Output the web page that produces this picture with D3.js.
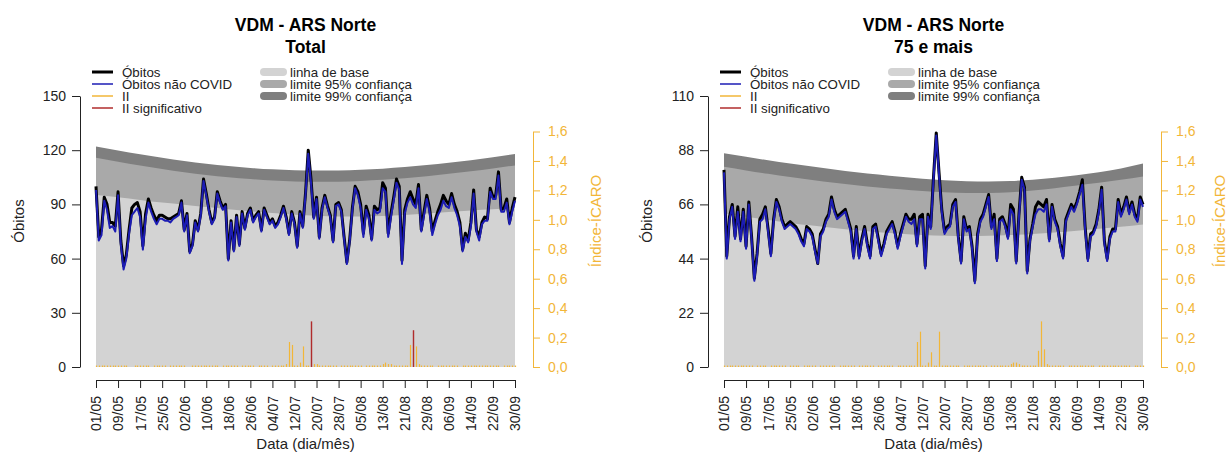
<!DOCTYPE html>
<html>
<head>
<meta charset="utf-8">
<script src="https://d3js.org/d3.v7.min.js"></script>
<style>
  body { margin: 0; background: #fff; }
  svg { display: block; font-family: "Liberation Sans", Arial, sans-serif; }
</style>
</head>
<body>
<svg id="chart" width="1230" height="452"></svg>
<script>
// x ticks, one every 8 days (2020)
const tickLabels = ["01/05","09/05","17/05","25/05","02/06","10/06","18/06","26/06","04/07","12/07",
                    "20/07","28/07","05/08","13/08","21/08","29/08","06/09","14/09","22/09","30/09"]

// ---- Total ----
// bands read at the tick dates
const baseTotal = [95.2,94,92.5,91,89.8,88.5,87.3,86.2,85.2,84.3,83.7,83.3,83.3,83.6,84.2,85,85.8,86.6,87.3,88]
const lim95Total = [115.8,113.6,111.5,109.6,107.8,106.3,105,104,103.2,102.7,102.5,102.6,103,103.6,104.5,105.6,106.9,108.3,109.9,111.6]
const lim99Total = [122,119.8,117.7,115.8,114,112.5,111.2,110.2,109.4,108.9,108.7,108.8,109.2,109.8,110.7,111.8,113.1,114.5,116.1,117.9]

const obitosTotal = [
  100,72,76,94,90,80,80,78,97,70,  56,62,76,88,90,91,86,67,85,93,
  88,84,81,84,84,83,82,82,83,84,  85,92,76,85,64,68,81,76,85,104,
  96,87,80,83,97,92,88,90,60,81,  65,84,68,86,77,85,88,81,84,86,
  76,88,84,80,82,78,80,84,89,83,  74,86,80,67,86,78,96,120,104,83,
  94,72,88,95,89,84,70,90,91,87,  72,58,70,88,100,97,90,74,89,84,
  71,89,87,88,102,99,74,85,94,104, 100,59,87,93,97,93,90,101,76,86,
  95,88,75,81,86,90,95,92,90,96,  90,86,80,65,74,70,80,98,76,72,
  80,83,82,99,94,95,108,87,88,93, 80,88,94]
const naoCovidTotal = [
  98,70,73,92,87,77,78,75,95,68,  54,60,74,84,86,88,83,65,82,91,
  86,82,79,82,82,81,81,80,82,83,  84,91,75,84,63,67,80,75,84,103,
  95,86,79,82,96,91,87,89,59,80,  64,83,67,85,76,84,87,80,83,85,
  75,87,83,79,81,77,79,83,88,82,  73,85,79,66,85,77,95,118,102,82,
  93,71,87,94,88,83,69,89,90,86,  71,57,69,87,99,95,88,72,87,82,
  70,87,85,86,99,97,72,83,92,102, 98,57,85,91,94,90,88,99,75,84,
  93,86,73,79,84,87,92,89,88,94,  88,84,78,64,72,69,78,96,75,70,
  79,81,81,97,93,93,106,86,86,91, 79,86,92]
const iiTotal = [
  .01,.01,.01,.01,.01,.01,.01,.01,.01,.01, .01,.01,0,0,.01,.01,.01,.01,.01,.01,
  0,.01,.01,.01,.01,.01,0,.01,.01,.01,      .01,.01,.01,0,0,.01,.01,.01,.01,.01,
  .01,.01,.01,.01,.01,0,.01,.01,.01,.01,    .01,.01,0,.01,.01,.01,.01,.01,0,.01,
  .01,.01,.01,0,.01,.01,.01,.01,.01,.02,    .17,.15,.01,.01,.03,.14,.01,.01,.31,.02,
  .02,.01,.01,.01,.01,.01,.01,.01,0,.01,    .01,.01,.01,.01,.01,.01,.01,0,.01,.01,
  .01,.01,.01,.01,.02,.03,.02,.02,.01,.01,  .01,.01,.01,.01,.15,.25,.14,.02,.01,.01,
  .01,.01,.01,0,.01,.01,.01,.01,.01,.01,    .01,.01,0,.01,.01,.01,.01,.01,.01,.01,
  .01,.01,.01,.01,.01,.01,.01,0,.01,.01,    .01,.01,.01]
const sigTotal = ["18/07","24/08"]

// ---- 75 e mais ----
const base75 = [62.4,61,59.7,58.5,57.4,56.4,55.5,54.7,54.1,53.6,53.3,53.2,53.3,53.6,54,54.6,55.3,56.1,56.9,57.8]
const lim95_75 = [81.3,79.8,78.4,77.1,75.9,74.8,73.8,72.9,72.1,71.4,70.9,70.6,70.6,70.9,71.6,72.6,73.7,74.8,76,77.3]
const lim99_75 = [86.8,85.3,83.9,82.6,81.4,80.2,79.1,78.1,77.2,76.4,75.8,75.4,75.3,75.5,76,76.8,77.8,79,80.6,82.6]

const obitos75 = [
  80,45,61,66,53,65,52,64,49,67,  53,36,46,60,62,65,56,46,60,68,
  65,60,57,58,59,58,57,55,52,50,  57,56,54,48,42,54,56,60,62,69,
  64,61,62,63,64,60,56,45,57,45,  52,57,50,45,57,58,52,46,50,55,
  57,59,55,49,54,58,62,60,60,62,  50,61,62,41,62,57,77,95,79,64,
  55,57,58,66,68,53,43,61,56,57,  49,35,54,60,62,66,70,57,62,44,
  60,61,58,53,66,64,43,62,77,73,  39,52,58,65,67,66,65,68,52,66,
  60,57,50,45,60,63,66,64,67,71,  76,57,44,54,55,58,64,73,51,44,
  53,56,56,68,62,65,69,63,67,62,  60,69,66]
const naoCovid75 = [
  79,44,60,65,52,63,51,63,48,66,  52,35,45,59,60,64,55,45,59,67,
  64,59,56,57,58,57,56,54,51,49,  56,55,53,47,42,53,55,59,61,68,
  63,60,61,62,63,59,55,44,56,44,  51,56,49,44,56,57,51,45,49,54,
  56,58,54,48,53,57,61,59,58,60,  49,60,60,40,61,56,76,94,78,63,
  54,56,57,65,67,52,42,60,55,56,  48,34,53,59,61,65,69,56,60,43,
  59,60,57,52,64,62,42,61,76,72,  38,51,57,62,64,64,63,66,51,65,
  59,56,49,44,59,62,65,63,66,70,  74,56,43,53,54,57,63,72,50,43,
  52,55,55,67,61,64,68,62,66,61,  59,68,65]
const ii75 = [
  .01,.01,.01,.01,.01,.01,.01,.01,.01,.01, .01,0,.01,.01,.01,.01,0,.01,.01,.01,
  .01,.01,.01,0,.01,.01,.01,.01,0,.01,      .01,.01,.01,.01,0,.01,.01,.01,.01,.01,
  .01,0,.01,.01,.01,.01,.01,.01,0,.01,      .01,.01,.01,.01,.01,0,.01,.01,.01,.01,
  .01,.01,0,.01,.01,.01,.01,.01,.01,.01,    .17,.24,.01,.01,.03,.10,.01,.01,.24,.01,
  .01,.01,.01,.01,.01,.01,0,.01,.01,.01,    .01,.01,.01,.01,.01,.01,0,.01,.01,.01,
  .01,.01,.01,.01,.02,.03,.03,.02,.01,.01,  .01,.01,.01,.01,.11,.31,.12,.02,.01,.01,
  .01,.01,.01,.01,0,.01,.01,.01,.01,.01,    .01,.01,.01,.01,.01,0,.01,.01,.01,.01,
  .01,.01,.01,.01,.01,.01,.01,.01,0,.01,    .01,.01,.01]
const sig75 = []

const panels = [
  {ox: 0, rightLab: 601, sub: "Total", ymax: 150, yticks: [0,30,60,90,120,150],
   base: baseTotal, l95: lim95Total, l99: lim99Total, obitos: obitosTotal, nao: naoCovidTotal, ii: iiTotal, sig: sigTotal},
  {ox: 628, rightLab: 597, sub: "75 e mais", ymax: 110, yticks: [0,22,44,66,88,110],
   base: base75, l95: lim95_75, l99: lim99_75, obitos: obitos75, nao: naoCovid75, ii: ii75, sig: sig75}
]

const svg = d3.select("#chart")
const parse = s => d3.utcParse("%d/%m/%Y")(s + "/2020")
const tickDates = tickLabels.map(parse)
const days = d3.utcDay.range(tickDates[0], d3.utcDay.offset(tickDates[tickDates.length-1], 1))
const fmtII = d => d.toFixed(1).replace(".", ",")

const orange = "#f2b638", red = "#b02c2c", blue = "#1c1cb4"

panels.forEach(p => drawPanel(p))

function drawPanel(p) {
  const g = svg.append("g").attr("transform", `translate(${p.ox},0)`)

  const x = d3.scaleUtc().domain([tickDates[0], tickDates[tickDates.length-1]]).range([96, 515])
  const y = d3.scaleLinear().domain([0, p.ymax]).range([367, 96])
  const yII = d3.scaleLinear().domain([0, 1.6]).range([367, 131.5])

  // bands
  const band = d3.area()
      .x((d, i) => x(tickDates[i]))
      .y0(y(0))
      .y1(d => y(d))
      .curve(d3.curveMonotoneX)
  g.append("path").attr("d", band(p.l99)).attr("fill", "#7f7f7f")
  g.append("path").attr("d", band(p.l95)).attr("fill", "#a9a9a9")
  g.append("path").attr("d", band(p.base)).attr("fill", "#d3d3d3")

  // II bars
  const sigSet = new Set(p.sig)
  const bars = p.ii.map((v, i) => ({v: v, date: days[i], sig: sigSet.has(d3.utcFormat("%d/%m")(days[i]))}))
  g.selectAll(".ii")
    .data(bars.filter(d => !d.sig).concat(bars.filter(d => d.sig)))
    .enter()
    .append("line")
      .attr("class", "ii")
      .attr("x1", d => Math.round(x(d.date)) + 0.5)
      .attr("x2", d => Math.round(x(d.date)) + 0.5)
      .attr("y1", yII(0))
      .attr("y2", d => yII(d.v))
      .attr("stroke", d => d.sig ? red : orange)
      .attr("stroke-width", d => d.sig ? 1.4 : 1.2)

  // deaths
  const line = d3.line().x((d, i) => x(days[i])).y(d => y(d))
  g.append("path").attr("d", line(p.obitos))
    .attr("fill", "none").attr("stroke", "#000").attr("stroke-width", 3).attr("stroke-linejoin", "round")
  g.append("path").attr("d", line(p.nao))
    .attr("fill", "none").attr("stroke", blue).attr("stroke-width", 2).attr("stroke-linejoin", "round")

  // axes
  const yAxis = g.append("g").attr("transform", "translate(80,0)")
    .call(d3.axisLeft(y).tickValues(p.yticks).tickSize(8).tickSizeOuter(0).tickPadding(6))
  yAxis.selectAll("text").attr("font-size", 14).attr("fill", "#222")
  yAxis.selectAll("path, line").attr("stroke", "#222")
  yAxis.attr("font-family", null)

  const iiAxis = g.append("g").attr("transform", "translate(533,0)")
    .call(d3.axisRight(yII).tickValues(d3.range(0, 1.61, 0.2)).tickFormat(fmtII).tickSize(7).tickSizeOuter(0).tickPadding(8))
  iiAxis.selectAll("text").attr("font-size", 14).attr("fill", orange)
  iiAxis.selectAll("path, line").attr("stroke", orange)
  iiAxis.attr("font-family", null)

  const xAxis = g.append("g").attr("transform", "translate(0,380)")
    .call(d3.axisBottom(x).tickValues(tickDates).tickFormat(d3.utcFormat("%d/%m")).tickSize(8).tickSizeOuter(0))
  xAxis.selectAll("text")
    .attr("transform", "rotate(-90)")
    .attr("x", -16).attr("y", 0).attr("dy", "0.35em")
    .attr("text-anchor", "end")
    .attr("font-size", 14).attr("fill", "#222")
  xAxis.selectAll("path, line").attr("stroke", "#222")
  xAxis.attr("font-family", null)

  // axis titles
  g.append("text").attr("transform", "translate(24,221) rotate(-90)")
    .attr("text-anchor", "middle").attr("font-size", 15).attr("fill", "#222").text("Óbitos")
  g.append("text").attr("transform", `translate(${p.rightLab},221) rotate(-90)`)
    .attr("text-anchor", "middle").attr("font-size", 15).attr("fill", orange).text("Índice-ÍCARO")
  g.append("text").attr("x", 305.5).attr("y", 449)
    .attr("text-anchor", "middle").attr("font-size", 15).attr("fill", "#222").text("Data (dia/mês)")

  // title
  g.append("text").attr("x", 305.5).attr("y", 31)
    .attr("text-anchor", "middle").attr("font-size", 17.5).attr("font-weight", "bold").text("VDM - ARS Norte")
  g.append("text").attr("x", 305.5).attr("y", 53)
    .attr("text-anchor", "middle").attr("font-size", 17.5).attr("font-weight", "bold").text(p.sub)

  // legend
  const legLines = [
    {label: "Óbitos", color: "#000", w: 3},
    {label: "Óbitos não COVID", color: blue, w: 1.5},
    {label: "II", color: orange, w: 1.5},
    {label: "II significativo", color: red, w: 1.5}
  ]
  const legBands = [
    {label: "linha de base", color: "#d3d3d3"},
    {label: "limite 95% confiança", color: "#a9a9a9"},
    {label: "limite 99% confiança", color: "#7f7f7f"}
  ]
  legLines.forEach((d, i) => {
    const ly = 72 + i * 12
    g.append("line").attr("x1", 92).attr("x2", 113).attr("y1", ly).attr("y2", ly)
      .attr("stroke", d.color).attr("stroke-width", d.w)
    g.append("text").attr("x", 122).attr("y", ly + 4.5).attr("font-size", 13.3).attr("fill", "#222").text(d.label)
  })
  legBands.forEach((d, i) => {
    const ly = 72 + i * 12
    g.append("line").attr("x1", 264).attr("x2", 283).attr("y1", ly).attr("y2", ly)
      .attr("stroke", d.color).attr("stroke-width", 8).attr("stroke-linecap", "round")
    g.append("text").attr("x", 290).attr("y", ly + 4.5).attr("font-size", 13.3).attr("fill", "#222").text(d.label)
  })
}
</script>
</body>
</html>
